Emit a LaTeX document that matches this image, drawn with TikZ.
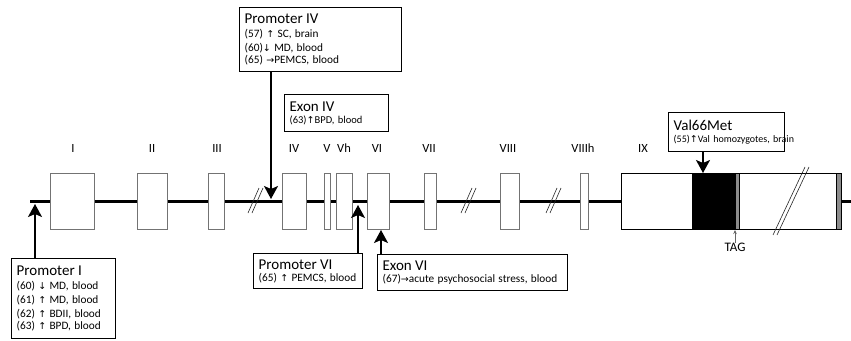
\documentclass[tikz,border=0pt]{standalone}
\usepackage{fontspec}
\setmainfont{Carlito}
\newfontfamily\arrfont{DejaVu Sans}
\usetikzlibrary{arrows.meta}
\newcommand\ArrUp{{\arrfont\fontsize{9.5}{10}\selectfont ↑}}
\newcommand\ArrDn{{\arrfont\fontsize{9.5}{10}\selectfont ↓}}
\newcommand\ArrRt{{\arrfont\fontsize{9.5}{10}\selectfont →}}
\newcommand\ttl{\fontsize{15}{17}\selectfont}
\newcommand\bd{\fontsize{11.3}{14.2}\selectfont}
\newcommand\bds{\fontsize{10.5}{13}\selectfont}
\begin{document}
\begin{tikzpicture}[x=1pt,y=-1pt,
  exon/.style={draw=black!55, line width=0.9pt, fill=white, inner sep=0pt, minimum height=56pt},
  brk/.style={line width=0.6pt, draw=black!85},
  callout/.style={line width=1.6pt, -{Stealth[length=13pt,width=14pt,inset=3pt]}},
  cbox/.style={draw, line width=1.3pt, fill=white, anchor=north west, align=left, inner xsep=5pt, inner ysep=0pt},
  lab/.style={font=\fontsize{12.5}{14}\selectfont, inner sep=0pt}]
\useasboundingbox (0,0) rectangle (851,340);

% main line
\coordinate (L0) at (30,201);
\coordinate (L1) at (851,201);
\draw[line width=3pt] (L0) -- (L1);

% breaks on the main line
\draw[brk] (248,213) -- (259,188) (252,213) -- (263,188);
\draw[brk] (461,213) -- (472,188) (465,213) -- (476,188);
\draw[brk] (546,213) -- (557,188) (550,213) -- (561,188);

% exons
\node[exon, minimum width=44pt] (eI) at (72,201) {};
\node[exon, minimum width=30pt] (eII) at (152,201) {};
\node[exon, minimum width=16pt] (eIII) at (216,201) {};
\node[exon, minimum width=24pt] (eIV) at (294,201) {};
\node[exon, minimum width=6pt] (eV) at (327,201) {};
\node[exon, minimum width=16pt] (eVh) at (344,201) {};
\node[exon, minimum width=22pt] (eVI) at (378,201) {};
\node[exon, minimum width=12pt] (eVII) at (430,201) {};
\node[exon, minimum width=19pt] (eVIII) at (509.5,201) {};
\node[exon, minimum width=8pt] (eVIIIh) at (584,201) {};
\node[exon, draw=black, minimum width=220pt] (eIX) at (731,201) {};
\fill[black] (692,173) rectangle (735,229);
\draw[line width=0.6pt, fill=black!45] (735,173) rectangle (739,229);
\draw[line width=0.6pt, fill=black!45] (836,173) rectangle (841,229);
\draw[brk] (773,235) -- (805,167) (777,235) -- (809,167);

% exon labels
\node[lab] (lI) at (73,148) {I};
\node[lab] (lII) at (152,148) {II};
\node[lab] (lIII) at (217,148) {III};
\node[lab] (lIV) at (294,148) {IV};
\node[lab] (lV) at (327,148) {V};
\node[lab] (lVh) at (344,148) {Vh};
\node[lab] (lVI) at (377,148) {VI};
\node[lab] (lVII) at (429,148) {VII};
\node[lab] (lVIII) at (508,148) {VIII};
\node[lab] (lVIIIh) at (583,148) {VIIIh};
\node[lab] (lIX) at (643,148) {IX};

% TAG
\node[lab, font=\fontsize{13}{14}\selectfont] (tag) at (735,247) {TAG};
\coordinate (tagtip) at (735,230);
\draw[black!60, line width=0.7pt, -{Stealth[length=4pt,width=3.5pt]}] (tag.north) -- (tagtip);

% callout boxes
\node[cbox, text width=94pt, minimum height=80pt] (pI) at (11,258)
  {{\ttl Promoter I\par}\bd (60) \ArrDn{} MD, blood\\ (61) \ArrUp{} MD, blood\\ (62) \ArrUp{} BDII, blood\\ (63) \ArrUp{} BPD, blood};
\node[cbox, text width=152pt, minimum height=64pt] (pIV) at (239,7)
  {{\ttl Promoter IV\par}\bd (57) \ArrUp{} SC, brain\\ (60)\ArrDn{} MD, blood\\ (65) \ArrRt{}PEMCS, blood};
\node[cbox, text width=94pt, minimum height=37pt] (xIV) at (284,94)
  {{\ttl Exon IV\par}\bds (63)\ArrUp{}BPD, blood};
\node[cbox, text width=99pt, minimum height=35pt] (pVI) at (253,253)
  {{\ttl Promoter VI\par}\bd (65) \ArrUp{} PEMCS, blood};
\node[cbox, text width=180pt, minimum height=36pt] (xVI) at (377,254)
  {{\ttl Exon VI\par}\bd (67)\ArrRt{}acute psychosocial stress, blood};
\node[cbox, text width=106pt, minimum height=39pt] (vm) at (668,112)
  {{\ttl Val66Met\par}\fontsize{10}{13}\selectfont\mbox{(55)\ArrUp{}Val homozygotes, brain}};

% callout arrows
\coordinate (tI) at (35,204);
\coordinate (tIV) at (271,199);
\coordinate (tVI) at (358,205);
\coordinate (txVI) at (381,230);
\coordinate (tvm) at (703,173);
\draw[callout] (pI.north -| tI) -- (tI);
\draw[callout] (pIV.south -| tIV) -- (tIV);
\draw[callout] (pVI.north -| tVI) -- (tVI);
\draw[callout] (xVI.north -| txVI) -- (txVI);
\draw[callout] (vm.south -| tvm) -- (tvm);
\end{tikzpicture}
\end{document}
